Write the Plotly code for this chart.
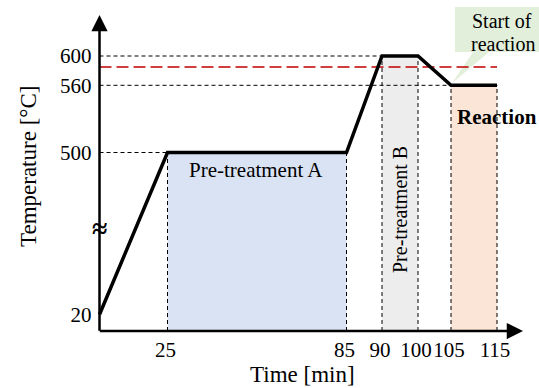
import numpy as np
import plotly.graph_objects as go

# ---------------- data ----------------
time_min = [0, 25, 85, 90, 100, 105, 115]
temp_c = [20, 500, 500, 600, 600, 560, 560]

x_tick_vals = [25, 85, 90, 100, 105, 115]
x_tick_text = ["25", "85", "90", "100", "105", "115"]
y_tick_vals = [20, 500, 560, 600]
y_tick_text = ["20", "500", "560", "600"]

phase_names = ["Pre-treatment A", "Pre-treatment B", "Reaction"]
phase_start = [25, 90, 105]
phase_end = [85, 100, 115]
phase_level = [500, 600, 560]

threshold_temp = 585  # red dashed line

# ---------------- schematic (broken) axis scales ----------------
W, H = 539, 388
TIME_ANCHORS = [0, 25, 85, 90, 100, 105, 115]
TIME_PX = [99.5, 167.5, 346.5, 382, 418, 451, 497]
TEMP_ANCHORS = [0, 20, 500, 560, 600]
TEMP_PX = [57, 73.5, 235.5, 302.7, 332]


def xm(t):
    return np.interp(np.asarray(t, dtype=float), TIME_ANCHORS, TIME_PX)


def ym(v):
    return np.interp(np.asarray(v, dtype=float), TEMP_ANCHORS, TEMP_PX)


FONT = "Liberation Serif"
fill_colors = ["#dae3f3", "#ededed", "#fbe5d6"]

fig = go.Figure()

# shaded phases
for s, e, lv, c in zip(phase_start, phase_end, phase_level, fill_colors):
    fig.add_trace(go.Scatter(
        x=xm([s, s, e, e]).tolist(), y=ym([0, lv, lv, 0]).tolist(),
        fill="toself", fillcolor=c, mode="none", hoverinfo="skip", showlegend=False))

blk_dash = dict(color="black", width=1, dash="4px,3px")

# vertical dashed guides
for s, e, lv in zip(phase_start, phase_end, phase_level):
    for t in (s, e):
        fig.add_trace(go.Scatter(x=xm([t, t]).tolist(), y=ym([0, lv]).tolist(), mode="lines",
                                 line=blk_dash, hoverinfo="skip", showlegend=False))

# horizontal dashed guides
for lv, t_end in [(500, 25), (600, 90), (560, 105)]:
    fig.add_trace(go.Scatter(x=xm([0, t_end]).tolist(), y=ym([lv, lv]).tolist(), mode="lines",
                             line=blk_dash, hoverinfo="skip", showlegend=False))

# red threshold line
fig.add_trace(go.Scatter(x=xm([0, 115]).tolist(), y=ym([threshold_temp, threshold_temp]).tolist(),
                         mode="lines", line=dict(color="#c00000", width=1.5, dash="12px,5px"),
                         hoverinfo="skip", showlegend=False))

# temperature profile
fig.add_trace(go.Scatter(x=xm(time_min).tolist(), y=ym(temp_c).tolist(), mode="lines",
                         line=dict(color="black", width=3.5), hoverinfo="skip", showlegend=False))

ox, oy = float(xm(0)), float(ym(0))
annotations = [
    # axis arrows
    dict(x=ox, y=373, ax=ox, ay=oy - 1.2, xref="x", yref="y", axref="x", ayref="y",
         showarrow=True, arrowhead=2, arrowsize=1.3, arrowwidth=2.5, arrowcolor="black", text=""),
    dict(x=523, y=oy, ax=ox - 1.2, ay=oy, xref="x", yref="y", axref="x", ayref="y",
         showarrow=True, arrowhead=2, arrowsize=1.3, arrowwidth=2.5, arrowcolor="black", text=""),
    # break mark
    dict(x=ox, y=160, xref="x", yref="y", text="<b>≈</b>", showarrow=False,
         font=dict(family=FONT, size=28, color="black")),
    # axis titles
    dict(x=28, y=221, xref="x", yref="y", text="Temperature [°C]", textangle=-90, showarrow=False,
         font=dict(family=FONT, size=23, color="black")),
    dict(x=302, y=14, xref="x", yref="y", text="Time [min]", showarrow=False,
         font=dict(family=FONT, size=23, color="black")),
    # phase labels
    dict(x=256, y=218, xref="x", yref="y", text=phase_names[0], showarrow=False,
         font=dict(family=FONT, size=21, color="black")),
    dict(x=float(xm(95)), y=178, xref="x", yref="y", text=phase_names[1], textangle=-90, showarrow=False,
         font=dict(family=FONT, size=20, color="black")),
    dict(x=497, y=271, xref="x", yref="y", text="<b>" + phase_names[2] + "</b>", showarrow=False,
         font=dict(family=FONT, size=21, color="black")),
    # callout text
    dict(x=502, y=367, xref="x", yref="y", text="Start of", showarrow=False,
         font=dict(family=FONT, size=20, color="black")),
    dict(x=503, y=344, xref="x", yref="y", text="reaction", showarrow=False,
         font=dict(family=FONT, size=20, color="black")),
]

tx, ty = float(xm(105)), float(ym(560))
callout_path = (f"M455,381 L560,381 L560,336 L489,336 L{tx + 1},{ty + 2} L473,336 L455,336 Z")

fig.update_layout(
    width=W, height=H,
    margin=dict(l=0, r=0, t=0, b=0),
    paper_bgcolor="white", plot_bgcolor="white",
    showlegend=False,
    shapes=[dict(type="path", path=callout_path, xref="x", yref="y",
                 fillcolor="#e2efda", line=dict(width=0), layer="below")],
    annotations=annotations,
    xaxis=dict(range=[0, W], domain=[0, 1], anchor="free", position=oy / H,
               showgrid=False, zeroline=False, showline=False, ticks="", tickangle=0,
               tickmode="array", tickvals=xm(x_tick_vals).tolist(), ticktext=x_tick_text,
               tickfont=dict(family=FONT, size=21, color="black"), ticklabelstandoff=4,
               ticklabelshift=-2),
    yaxis=dict(range=[0, H], domain=[0, 1], anchor="free", position=ox / W,
               showgrid=False, zeroline=False, showline=False, ticks="",
               tickmode="array", tickvals=ym(y_tick_vals).tolist(), ticktext=y_tick_text,
               tickfont=dict(family=FONT, size=21, color="black"), ticklabelstandoff=8),
)

fig.write_html("out.html")
